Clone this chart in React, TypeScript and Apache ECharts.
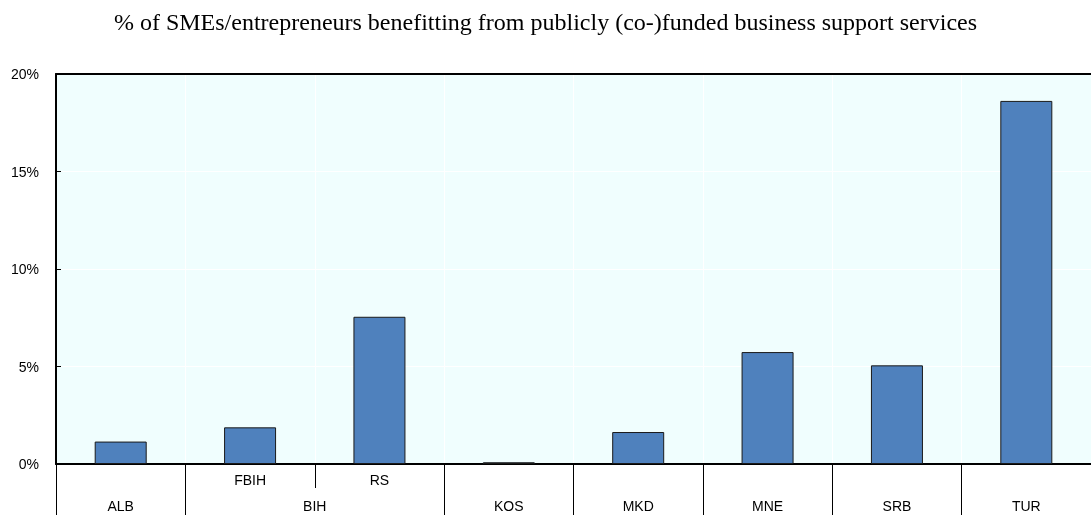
import React, { useEffect, useRef } from "react";
import * as echarts from "echarts";

const title = "% of SMEs/entrepreneurs benefitting from publicly (co-)funded business support services";
const categories = ["ALB", "FBIH", "RS", "KOS", "MKD", "MNE", "SRB", "TUR"];
const values = [1.15, 1.88, 7.55, 0.09, 1.64, 5.74, 5.06, 18.62];
const subLabels = ["", "FBIH", "RS", "", "", "", "", ""];
const groupNames = ["ALB", "BIH", "KOS", "MKD", "MNE", "SRB", "TUR"];
const groupCenters = [0.5, 2, 3.5, 4.5, 5.5, 6.5, 7.5];
const groupBoundaries = [0, 1, 3, 4, 5, 6, 7, 8];
const subBoundaries = [2];
const yTicks = [0, 5, 10, 15, 20];

export default function App() {
  const ref = useRef<HTMLDivElement>(null);
  useEffect(() => {
    if (!ref.current) return;
    const chart = echarts.init(ref.current, null, { renderer: "svg" });
    const font = "Liberation Sans, Arial, sans-serif";
    chart.setOption({
      animation: false,
      title: {
        text: title,
        left: "center",
        top: 5,
        textStyle: { fontFamily: "Liberation Serif, Times New Roman, serif", fontWeight: "normal", fontSize: 24, color: "#000" },
      },
      grid: { left: 56, right: 0, top: 74, bottom: 51, show: true, backgroundColor: "#f0fefe", borderWidth: 0 },
      xAxis: [
        {
          type: "category",
          data: categories,
          position: "bottom",
          axisLine: { lineStyle: { color: "#000", width: 2 } },
          axisTick: { show: false },
          splitLine: { show: true, lineStyle: { color: "#ffffff", width: 1 } },
          axisLabel: {
            formatter: (_v: string, i: number) => subLabels[i],
            color: "#000",
            fontFamily: font,
            fontSize: 14,
            margin: 9,
          },
        },
        {
          type: "value",
          min: 0,
          max: 8,
          position: "bottom",
          axisLine: { show: false },
          splitLine: { show: false },
          axisTick: { show: true, customValues: subBoundaries, length: 24, lineStyle: { color: "#000", width: 1 } },
          axisLabel: { show: false },
        },
        {
          type: "value",
          min: 0,
          max: 8,
          position: "bottom",
          axisLine: { show: false },
          splitLine: { show: false },
          axisTick: { show: true, customValues: groupBoundaries, length: 52, lineStyle: { color: "#000", width: 1 } },
          axisLabel: {
            customValues: groupCenters,
            formatter: (v: number) => groupNames[groupCenters.indexOf(v)] ?? "",
            color: "#000",
            fontFamily: font,
            fontSize: 14,
            margin: 35,
          },
        },
        {
          type: "value",
          min: 0,
          max: 8,
          position: "top",
          axisLine: { show: true, lineStyle: { color: "#000", width: 2 } },
          splitLine: { show: false },
          axisTick: { show: false },
          axisLabel: { show: false },
        },
      ],
      yAxis: {
        type: "value",
        min: 0,
        max: 20,
        interval: 5,
        axisLine: { show: true, lineStyle: { color: "#000", width: 2 } },
        axisTick: { show: true, inside: true, length: 5, lineStyle: { color: "#000", width: 1 } },
        splitLine: { show: true, lineStyle: { color: "#ffffff", width: 1 } },
        axisLabel: {
          formatter: (v: number) => (yTicks.includes(v) ? v + "%" : ""),
          color: "#000",
          fontFamily: font,
          fontSize: 14,
          margin: 17,
        },
      },
      series: [
        {
          type: "bar",
          xAxisIndex: 0,
          data: values,
          barWidth: 52,
          itemStyle: { color: "#4f81bd", borderColor: "#1a1a1a", borderWidth: 1 },
        },
      ],
    });
    return () => chart.dispose();
  }, []);
  return <div ref={ref} style={{ position: "fixed", left: 0, top: 0, width: 1091, height: 515 }} />;
}
